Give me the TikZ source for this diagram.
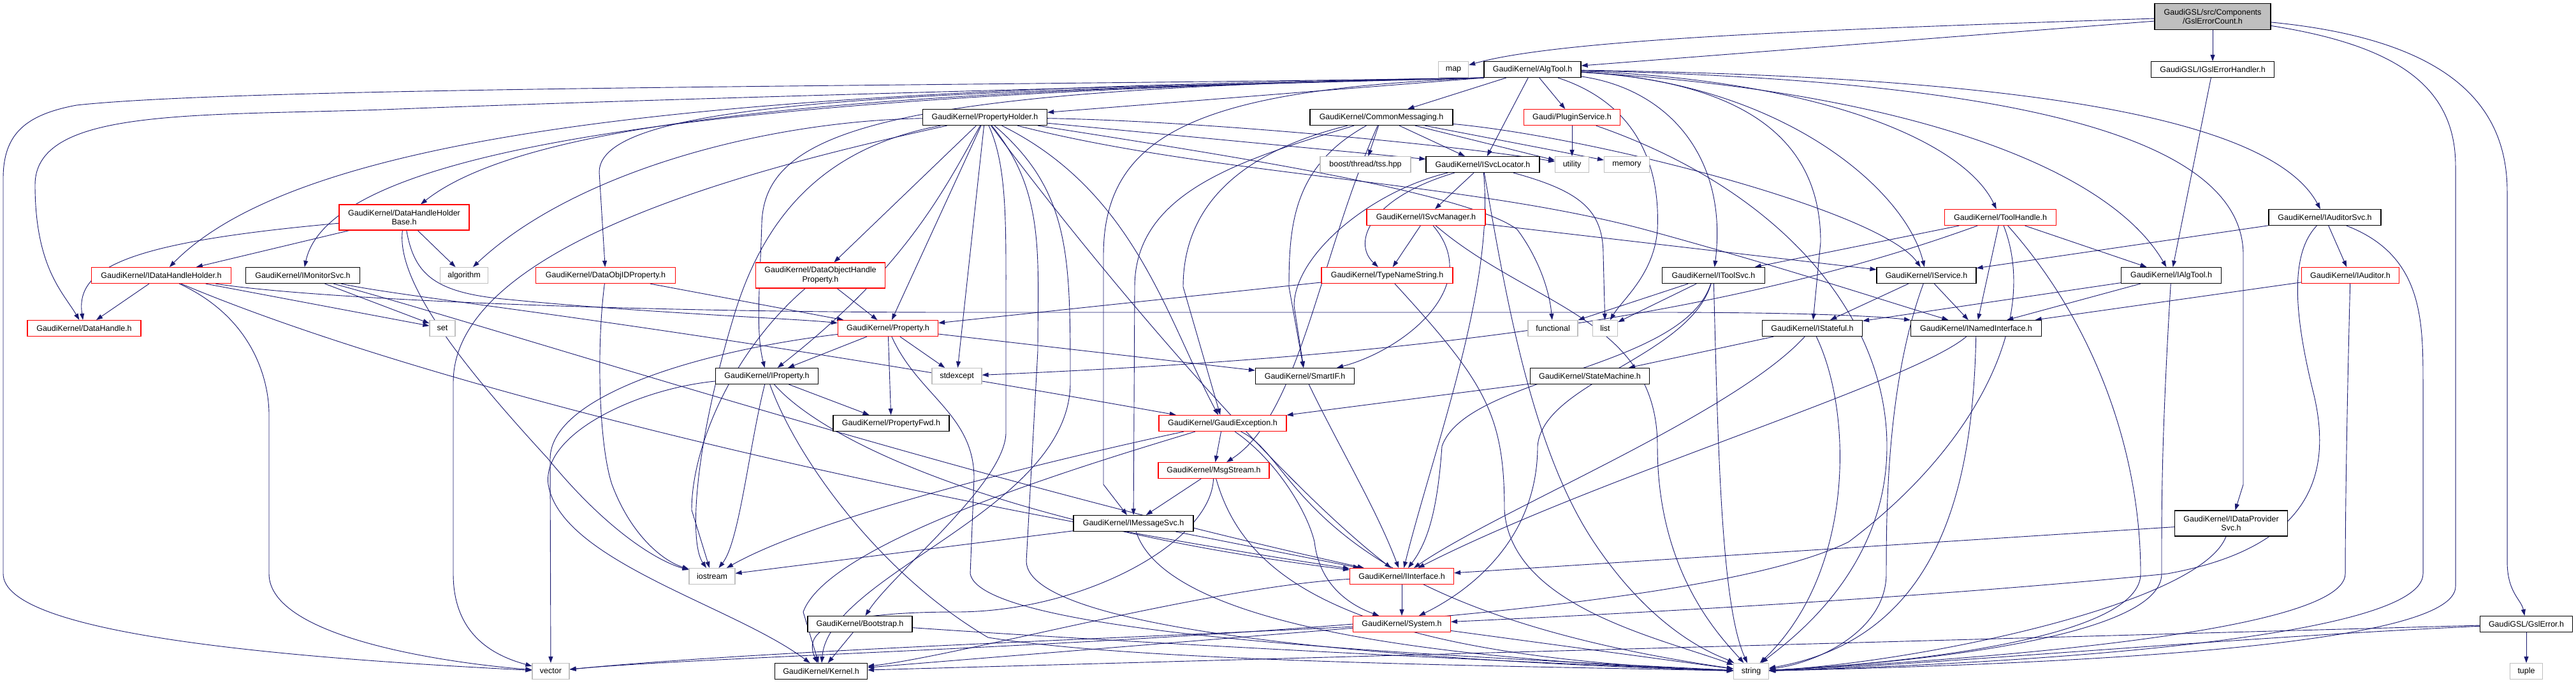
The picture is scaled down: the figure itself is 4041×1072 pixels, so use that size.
\documentclass[tikz,border=0pt]{standalone}
\usepackage{fontspec}
\setmainfont{Liberation Sans}
\usetikzlibrary{arrows.meta}
\definecolor{edgec}{HTML}{191970}
\definecolor{grayb}{HTML}{BFBFBF}
\pgfdeclarelayer{backdrop}
\pgfdeclarelayer{bg}
\pgfsetlayers{backdrop,bg,main}
\tikzset{
 box/.style={draw, fill=white, line width=1.2pt, minimum height=25pt, inner sep=2pt, font=\fontsize{12.5}{14.5}\selectfont, align=center},
 nb/.style={box, draw=black},
 rb/.style={box, draw=red},
 gb/.style={box, draw=grayb},
 e/.style={draw=edgec, line width=0.9pt, -{Triangle[length=10pt,width=7pt]}},
}
\begin{document}
\begin{tikzpicture}[x=1pt,y=-1pt]
\begin{pgfonlayer}{backdrop}
\fill[white] (0,0) rectangle (4041,1072);
\end{pgfonlayer}
\useasboundingbox (0,0) rectangle (4041,1072);
% nodes
\node[nb,fill=grayb,minimum width=182pt,minimum height=41pt] (root) at (3471,26) {GaudiGSL/src/Components\\/GslErrorCount.h};
\node[gb,minimum width=47pt] (map) at (2280,109) {map};
\node[nb,minimum width=152pt] (algtool) at (2404,109) {GaudiKernel/AlgTool.h};
\node[nb,minimum width=193pt] (igslerr) at (3471,109) {GaudiGSL/IGslErrorHandler.h};
\node[nb,minimum width=195pt] (propholder) at (1545,184) {GaudiKernel/PropertyHolder.h};
\node[nb,minimum width=224pt] (commsg) at (2167,184) {GaudiKernel/CommonMessaging.h};
\node[rb,minimum width=151pt] (plugin) at (2466,184) {Gaudi/PluginService.h};
\node[gb,minimum width=142pt] (boosttss) at (2142,258) {boost/thread/tss.hpp};
\node[nb,minimum width=178pt] (isvcloc) at (2326,258) {GaudiKernel/ISvcLocator.h};
\node[gb,minimum width=53pt] (utility) at (2466,258) {utility};
\node[gb,minimum width=71pt] (memory) at (2552,258) {memory};
\node[rb,minimum width=204pt,minimum height=40pt] (dhhbase) at (634,341) {GaudiKernel/DataHandleHolder\\Base.h};
\node[rb,minimum width=186pt] (isvcmgr) at (2237,341) {GaudiKernel/ISvcManager.h};
\node[rb,minimum width=175pt] (toolhandle) at (3138,341) {GaudiKernel/ToolHandle.h};
\node[nb,minimum width=176pt] (iauditorsvc) at (3647,341) {GaudiKernel/IAuditorSvc.h};
\node[rb,minimum width=219pt] (idhh) at (253,432) {GaudiKernel/IDataHandleHolder.h};
\node[nb,minimum width=179pt] (imonitor) at (475,432) {GaudiKernel/IMonitorSvc.h};
\node[gb,minimum width=75pt] (algorithm) at (728,432) {algorithm};
\node[rb,minimum width=219pt] (dataobjid) at (950,432) {GaudiKernel/DataObjIDProperty.h};
\node[rb,minimum width=203pt,minimum height=40pt] (dohp) at (1287,432) {GaudiKernel/DataObjectHandle\\Property.h};
\node[rb,minimum width=206pt] (typename) at (2176,432) {GaudiKernel/TypeNameString.h};
\node[nb,minimum width=161pt] (itoolsvc) at (2688,432) {GaudiKernel/IToolSvc.h};
\node[nb,minimum width=156pt] (iservice) at (3022,432) {GaudiKernel/IService.h};
\node[nb,minimum width=157pt] (ialgtool) at (3406,432) {GaudiKernel/IAlgTool.h};
\node[rb,minimum width=153pt] (iauditor) at (3687,432) {GaudiKernel/IAuditor.h};
\node[rb,minimum width=178pt] (datahandle) at (132,515) {GaudiKernel/DataHandle.h};
\node[gb,minimum width=40pt] (set) at (694,515) {set};
\node[rb,minimum width=157pt] (property) at (1393,515) {GaudiKernel/Property.h};
\node[gb,minimum width=78pt] (functional) at (2436,515) {functional};
\node[gb,minimum width=39pt] (list) at (2518,515) {list};
\node[nb,minimum width=157pt] (istateful) at (2843,515) {GaudiKernel/IStateful.h};
\node[nb,minimum width=205pt] (inamed) at (3100,515) {GaudiKernel/INamedInterface.h};
\node[nb,minimum width=161pt] (iproperty) at (1203,590) {GaudiKernel/IProperty.h};
\node[gb,minimum width=78pt] (stdexcept) at (1501,590) {stdexcept};
\node[nb,minimum width=155pt] (smartif) at (2047,590) {GaudiKernel/SmartIF.h};
\node[nb,minimum width=187pt] (statemachine) at (2494,590) {GaudiKernel/StateMachine.h};
\node[nb,minimum width=182pt] (propfwd) at (1398,664) {GaudiKernel/PropertyFwd.h};
\node[rb,minimum width=200pt] (gaudiexc) at (1918,664) {GaudiKernel/GaudiException.h};
\node[rb,minimum width=174pt] (msgstream) at (1904,738) {GaudiKernel/MsgStream.h};
\node[nb,minimum width=188pt] (imessagesvc) at (1778,821) {GaudiKernel/IMessageSvc.h};
\node[nb,minimum width=177pt,minimum height=40pt] (idataprov) at (3500,821) {GaudiKernel/IDataProvider\\Svc.h};
\node[gb,minimum width=72pt] (iostream) at (1117,904) {iostream};
\node[rb,minimum width=163pt] (iinterface) at (2199,904) {GaudiKernel/IInterface.h};
\node[rb,minimum width=153pt] (system) at (2199,979) {GaudiKernel/System.h};
\node[nb,minimum width=164pt] (bootstrap) at (1349,979) {GaudiKernel/Bootstrap.h};
\node[nb,minimum width=145pt] (gslerror) at (3963,979) {GaudiGSL/GslError.h};
\node[gb,minimum width=58pt] (vector) at (864,1053) {vector};
\node[nb,minimum width=145pt] (kernel) at (1288,1053) {GaudiKernel/Kernel.h};
\node[gb,minimum width=55pt] (string) at (2747,1053) {string};
\node[gb,minimum width=51pt] (tuple) at (3963,1053) {tuple};
\begin{pgfonlayer}{bg}
% root
\draw[e] (root) .. controls (2900,45) and (2450,60) .. (map);
\draw[e] (root) -- (algtool);
\draw[e] (root) -- (igslerr);
\draw[e] (root) .. controls (3750,70) and (3852,130) .. (3852,260) -- (3852,920) .. controls (3852,1010) and (3300,1040) .. (string);
\draw[e] (root) .. controls (3820,60) and (3933,150) .. (3933,300) -- (3933,880) .. controls (3933,930) and (3955,940) .. (gslerror);
\draw[e] (igslerr) -- (ialgtool);
% algtool
\draw[e] (algtool.south west) -- (propholder);
\draw[e] (algtool) -- (commsg);
\draw[e] (algtool) -- (plugin);
\draw[e] (algtool) -- (isvcloc);
\draw[e] (algtool.south west) .. controls (1500,140) and (850,170) .. (dhhbase);
\draw[e] (algtool.south west) .. controls (1300,138) and (500,180) .. (idhh);
\draw[e] (algtool.south west) .. controls (1500,142) and (900,160) .. (600,172) .. controls (300,182) and (55,170) .. (55,290) .. controls (55,420) and (100,460) .. (datahandle);
\draw[e] (algtool.south west) .. controls (1500,136) and (400,135) .. (120,165) .. controls (40,180) and (5,210) .. (5,280) -- (5,900) .. controls (5,990) and (400,1030) .. (vector);
\draw[e] (algtool.south west) .. controls (1200,145) and (520,220) .. (imonitor);
\draw[e] (algtool.south west) .. controls (1500,145) and (940,150) .. (940,270) -- (dataobjid);
\draw[e] (algtool.south west) .. controls (1400,138) and (1200,200) .. (1195,350) .. controls (1192,450) and (1185,520) .. (iproperty);
\draw[e] (algtool) .. controls (2850,125) and (3080,220) .. (toolhandle);
\draw[e] (algtool) .. controls (2620,140) and (2711,250) .. (itoolsvc);
\draw[e] (algtool) .. controls (2800,130) and (2990,300) .. (iservice);
\draw[e] (algtool) .. controls (2950,140) and (3300,250) .. (ialgtool);
\draw[e] (algtool) .. controls (3150,120) and (3560,180) .. (iauditorsvc);
\draw[e] (algtool) .. controls (3100,125) and (3519,200) .. (3519,400) -- (3519,760) -- (idataprov);
\draw[e] (algtool) .. controls (2780,130) and (2856,250) .. (2856,380) -- (istateful);
\draw[e] (algtool) .. controls (2560,160) and (2605,250) .. (2600,360) .. controls (2595,430) and (2545,470) .. (list);
\draw[e] (algtool.south west) .. controls (1900,140) and (1731,200) .. (1731,400) -- (1731,760) -- (imessagesvc);
% propertyholder
\draw[e] (propholder) .. controls (1200,190) and (900,270) .. (algorithm);
\draw[e] (propholder) -- (dohp);
\draw[e] (propholder) .. controls (1480,300) and (1420,420) .. (iproperty);
\draw[e] (propholder) -- (property);
\draw[e] (propholder) -- (stdexcept);
\draw[e] (propholder) .. controls (1300,230) and (1200,330) .. (1150,500) .. controls (1090,700) and (1080,850) .. (iostream);
\draw[e] (propholder) .. controls (1200,260) and (711,380) .. (711,600) -- (711,900) .. controls (711,1000) and (780,1030) .. (vector);
\draw[e] (propholder) .. controls (1640,300) and (1628,400) .. (1628,550) -- (1610,880) .. controls (1610,1000) and (2300,1040) .. (string);
\draw[e] (propholder) .. controls (1900,190) and (2300,230) .. (utility);
\draw[e] (propholder) -- (isvcloc);
\draw[e] (propholder) .. controls (1900,240) and (2300,300) .. (2380,360) .. controls (2410,400) and (2430,450) .. (functional);
\draw[e] (propholder) .. controls (1900,275) and (2300,285) .. (2580,360) .. controls (2800,420) and (2950,470) .. (inamed);
\draw[e] (propholder) .. controls (1720,420) and (2000,750) .. (iinterface);
\draw[e] (propholder) .. controls (1780,300) and (1830,500) .. (gaudiexc);
\draw[e] (propholder) .. controls (1580,260) and (1578,350) .. (1578,480) -- (1578,680) .. controls (1575,760) and (1400,900) .. (bootstrap);
\draw[e] (propholder) .. controls (1679,300) and (1679,400) .. (1679,600) .. controls (1679,800) and (1300,900) .. (kernel);
% commonmessaging
\draw[e] (commsg) -- (boosttss);
\draw[e] (commsg) -- (isvcloc);
\draw[e] (commsg) -- (utility);
\draw[e] (commsg) -- (memory);
\draw[e] (commsg) .. controls (1950,250) and (1780,300) .. (1780,450) -- (imessagesvc);
\draw[e] (commsg) .. controls (1980,230) and (1856,300) .. (1856,450) -- (gaudiexc);
\draw[e] (commsg) .. controls (2030,260) and (2022,350) .. (2022,450) -- (smartif);
\draw[e] (commsg) .. controls (2070,400) and (2040,650) .. (msgstream);
\draw[e] (commsg) .. controls (2500,215) and (2950,330) .. (iservice);
% isvclocator
\draw[e] (isvcloc) -- (isvcmgr);
\draw[e] (isvcloc) .. controls (2150,310) and (2120,380) .. (typename);
\draw[e] (isvcloc) .. controls (2150,300) and (2030,400) .. (2030,480) -- (smartif);
\draw[e] (isvcloc) .. controls (2480,300) and (2515,330) .. (2515,400) -- (list);
\draw[e] (isvcloc) .. controls (2345,450) and (2250,700) .. (iinterface);
\draw[e] (isvcloc) .. controls (2360,450) and (2400,700) .. (2500,850) .. controls (2600,1000) and (2700,1030) .. (string);
% isvcmanager
\draw[e] (isvcmgr) -- (typename);
\draw[e] (isvcmgr) .. controls (2330,450) and (2200,550) .. (smartif);
\draw[e] (isvcmgr) -- (iservice);
\draw[e] (isvcmgr) .. controls (2400,480) and (2600,500) .. (2600,700) .. controls (2600,900) and (2700,1000) .. (string);
% typenamestring
\draw[e] (typename) -- (property);
\draw[e] (typename) .. controls (2330,600) and (2360,650) .. (2360,800) .. controls (2370,950) and (2600,1000) .. (string);
% pluginservice
\draw[e] (plugin) -- (utility);
\draw[e] (plugin) .. controls (2800,300) and (2960,500) .. (2960,700) .. controls (2960,900) and (2800,1010) .. (string);
% toolhandle
\draw[e] (toolhandle) -- (itoolsvc);
\draw[e] (toolhandle) .. controls (2700,500) and (2200,560) .. (stdexcept);
\draw[e] (toolhandle) -- (inamed);
\draw[e] (toolhandle) -- (ialgtool);
\draw[e] (toolhandle) .. controls (3280,500) and (3358,700) .. (3358,900) .. controls (3358,1000) and (3000,1040) .. (string);
\draw[e] (toolhandle) .. controls (3200,500) and (3100,700) .. (2900,850) .. controls (2600,1000) and (1200,1020) .. (vector);
% iauditorsvc
\draw[e] (iauditorsvc) -- (iservice);
\draw[e] (iauditorsvc) -- (iauditor);
\draw[e] (iauditorsvc) .. controls (3800,400) and (3801,500) .. (3801,600) -- (3801,900) .. controls (3801,1000) and (3200,1040) .. (string);
\draw[e] (iauditorsvc) .. controls (3590,400) and (3600,500) .. (3630,620) .. controls (3660,750) and (3620,860) .. (3400,900) .. controls (3000,940) and (2500,965) .. (system);
% itoolsvc
\draw[e] (itoolsvc) -- (functional);
\draw[e] (itoolsvc) -- (list);
\draw[e] (itoolsvc) .. controls (2695,700) and (2700,950) .. (string);
\draw[e] (itoolsvc) .. controls (2640,580) and (2300,590) .. (2262,700) .. controls (2255,800) and (2240,850) .. (iinterface);
\draw[e] (itoolsvc) .. controls (2650,560) and (2420,600) .. (2412,700) .. controls (2412,850) and (2300,930) .. (system);
% iservice, ialgtool, iauditor
\draw[e] (iservice) -- (inamed);
\draw[e] (iservice) -- (istateful);
\draw[e] (iservice) .. controls (2960,600) and (2959,800) .. (2959,900) .. controls (2959,990) and (2850,1040) .. (string);
\draw[e] (ialgtool) -- (inamed);
\draw[e] (ialgtool) -- (istateful);
\draw[e] (ialgtool) .. controls (3390,700) and (3391,800) .. (3391,900) .. controls (3391,1000) and (3000,1040) .. (string);
\draw[e] (iauditor) -- (inamed);
\draw[e] (iauditor) .. controls (3680,700) and (3679,850) .. (3679,900) .. controls (3679,1000) and (3000,1040) .. (string);
% istateful, inamed
\draw[e] (istateful) -- (statemachine);
\draw[e] (istateful) .. controls (2720,650) and (2350,800) .. (iinterface);
\draw[e] (istateful) .. controls (2908,650) and (2908,900) .. (string);
\draw[e] (inamed) .. controls (3000,600) and (2500,750) .. (iinterface);
\draw[e] (inamed) .. controls (3095,750) and (3050,1000) .. (string);
% idatahandleholder
\draw[e] (idhh) -- (datahandle);
\draw[e] (idhh) .. controls (400,500) and (422,600) .. (422,650) -- (422,900) .. controls (422,1000) and (700,1040) .. (vector);
\draw[e] (idhh) -- (set);
\draw[e] (idhh) .. controls (500,470) and (1000,490) .. (1500,490) -- (2600,490) .. controls (2900,490) and (2980,500) .. (inamed);
\draw[e] (idhh) .. controls (700,620) and (1500,800) .. (iinterface);
% imonitorsvc
\draw[e] (imonitor) -- (set);
\draw[e] (imonitor) .. controls (800,520) and (1500,750) .. (iinterface);
\draw[e] (imonitor) .. controls (650,470) and (1000,500) .. (gaudiexc);
% datahandleholderbase
\draw[e] (dhhbase) -- (idhh);
\draw[e] (dhhbase) .. controls (200,380) and (118,420) .. (datahandle);
\draw[e] (dhhbase) -- (algorithm);
\draw[e] (dhhbase) .. controls (650,430) and (680,460) .. (800,470) .. controls (1000,490) and (1250,500) .. (property);
\draw[e] (dhhbase) .. controls (620,450) and (750,600) .. (860,720) .. controls (950,830) and (1030,880) .. (iostream);
% dataobjidproperty, dataobjecthandleproperty
\draw[e] (dataobjid) -- (property);
\draw[e] (dataobjid) .. controls (935,550) and (940,700) .. (960,760) .. controls (990,840) and (1040,880) .. (iostream);
\draw[e] (dohp) -- (property);
\draw[e] (dohp) .. controls (1150,550) and (1085,700) .. (1085,800) -- (iostream);
% property
\draw[e] (property) -- (iproperty);
\draw[e] (property) -- (propfwd);
\draw[e] (property) -- (stdexcept);
\draw[e] (property) -- (smartif);
\draw[e] (property) .. controls (1100,550) and (863,620) .. (863,720) -- (vector);
\draw[e] (property) .. controls (1440,620) and (1528,650) .. (1528,750) -- (1522,900) .. controls (1540,1000) and (2300,1030) .. (string);
% iproperty
\draw[e] (iproperty) -- (propfwd);
\draw[e] (iproperty) .. controls (1175,700) and (1160,850) .. (iostream);
\draw[e] (iproperty) .. controls (1300,700) and (1600,830) .. (iinterface);
\draw[e] (iproperty) .. controls (1250,720) and (1380,900) .. (1550,1000) .. controls (1800,1040) and (2400,1045) .. (string);
\draw[e] (iproperty) .. controls (1000,610) and (850,680) .. (860,760) .. controls (880,880) and (1150,950) .. (kernel);
% smartif, statemachine
\draw[e] (smartif) .. controls (2100,700) and (2160,800) .. (iinterface);
\draw[e] (statemachine) -- (gaudiexc);
% gaudiexception
\draw[e] (gaudiexc) -- (msgstream);
\draw[e] (gaudiexc) .. controls (1750,700) and (1300,800) .. (iostream);
\draw[e] (gaudiexc) .. controls (1700,730) and (1300,850) .. (1260,960) -- (kernel);
\draw[e] (gaudiexc) .. controls (2000,720) and (2050,800) .. (2062,850) .. controls (2070,920) and (2120,950) .. (system);
\draw[e] (gaudiexc) .. controls (2040,720) and (2040,950) .. (string);
% msgstream
\draw[e] (msgstream) -- (imessagesvc);
\draw[e] (msgstream) .. controls (1900,850) and (1700,960) .. (1500,960) .. controls (1300,960) and (1260,990) .. (kernel);
\draw[e] (msgstream) .. controls (1950,900) and (2100,1030) .. (string);
% imessagesvc
\draw[e] (imessagesvc) -- (iostream);
\draw[e] (imessagesvc) -- (iinterface);
\draw[e] (imessagesvc) .. controls (1820,950) and (2100,1030) .. (string);
% idataprovidersvc
\draw[e] (idataprov) -- (iinterface);
\draw[e] (idataprov) .. controls (3450,950) and (3000,1040) .. (string);
% iinterface, system, bootstrap
\draw[e] (iinterface) -- (system);
\draw[e] (iinterface) .. controls (1900,920) and (1500,1030) .. (kernel);
\draw[e] (system) -- (kernel);
\draw[e] (system) -- (string);
\draw[e] (system) .. controls (1800,1000) and (1200,1020) .. (vector);
\draw[e] (bootstrap) -- (kernel);
\draw[e] (bootstrap) .. controls (1800,1010) and (2400,1040) .. (string);
% gslerror
\draw[e] (gslerror) -- (tuple);
\draw[e] (gslerror) .. controls (3500,1000) and (3000,1045) .. (string);
\draw[e] (gslerror) -- (kernel);
\end{pgfonlayer}
\end{tikzpicture}
\end{document}
